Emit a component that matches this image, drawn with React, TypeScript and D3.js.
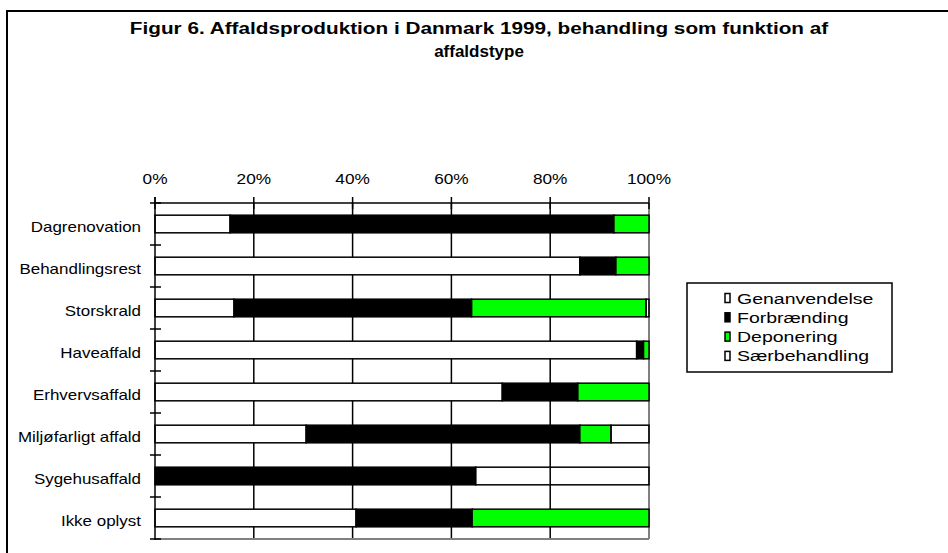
import React from 'react';
import * as d3 from 'd3';

const categories = [
  'Dagrenovation',
  'Behandlingsrest',
  'Storskrald',
  'Haveaffald',
  'Erhvervsaffald',
  'Miljøfarligt affald',
  'Sygehusaffald',
  'Ikke oplyst',
];

const seriesNames = ['Genanvendelse', 'Forbrænding', 'Deponering', 'Særbehandling'];
const seriesColors = ['#ffffff', '#000000', '#00ff00', 'none'];

const genanvendelse = [15.2, 86, 16, 97.5, 70.3, 30.6, 0, 40.7];
const forbraending = [77.7, 7.3, 48.1, 1.4, 15.3, 55.4, 64.9, 23.5];
const deponering = [7.1, 6.7, 35.3, 1.1, 14.4, 6.3, 0, 35.8];
const saerbehandling = [0, 0, 0.6, 0, 0, 7.7, 35.1, 0];

const xTicks = [0, 20, 40, 60, 80, 100];

const W = 948;
const H = 553;
const left = 155;
const right = 649;
const top = 203;
const bottom = 539;
const font = 'Liberation Sans, Arial, sans-serif';

export default function App() {
  const rows = categories.map((c, i) => ({
    cat: c,
    Genanvendelse: genanvendelse[i],
    Forbrænding: forbraending[i],
    Deponering: deponering[i],
    Særbehandling: saerbehandling[i],
  }));

  const layers = d3.stack<any>().keys(seriesNames)(rows);

  const x = d3.scaleLinear().domain([0, 100]).range([left, right]);
  const y = d3.scaleBand().domain(categories).range([top, bottom]).paddingInner(0.58).paddingOuter(0.29);
  const band = d3.scaleBand().domain(categories).range([top, bottom]);

  return (
    <svg width={W} height={H} style={{ position: 'absolute', left: 0, top: 0 }} fontFamily={font}>
      <rect x={0} y={0} width={W} height={H} fill="#fff" />
      {/* outer frame, runs off the right and bottom */}
      <rect x={7} y={11} width={W + 10} height={H + 10} fill="none" stroke="#000" strokeWidth={2} />

      <text transform="translate(479,34) scale(1.22,1)" textAnchor="middle" fontWeight="bold" fontSize={17}>
        Figur 6. Affaldsproduktion i Danmark 1999, behandling som funktion af
      </text>
      <text x={479} y={57} textAnchor="middle" fontWeight="bold" fontSize={17}>
        affaldstype
      </text>

      {/* vertical grid */}
      {xTicks.slice(1, -1).map(t => (
        <line key={'g' + t} x1={x(t)} x2={x(t)} y1={top} y2={bottom} stroke="#000" strokeWidth={1.5} />
      ))}
      <line x1={x(100)} x2={x(100)} y1={top} y2={bottom} stroke="#808080" strokeWidth={2} />
      <line x1={left} x2={right} y1={bottom} y2={bottom} stroke="#808080" strokeWidth={2} />

      {/* bars */}
      {layers.map((layer, si) => (
        <g key={seriesNames[si]}>
          {layer.map(d => (
            d[1] - d[0] > 0 ? (
              <rect
                key={d.data.cat}
                x={x(d[0])}
                y={y(d.data.cat)}
                width={x(d[1]) - x(d[0])}
                height={y.bandwidth()}
                fill={seriesColors[si]}
                stroke="#000"
                strokeWidth={1.5}
              />
            ) : null
          ))}
        </g>
      ))}

      {/* top axis */}
      <line x1={left} x2={right} y1={top} y2={top} stroke="#000" strokeWidth={1.5} />
      {xTicks.map(t => (
        <g key={'t' + t}>
          <line x1={x(t)} x2={x(t)} y1={top - 6} y2={top + 6} stroke="#000" strokeWidth={1.5} />
          <text transform={`translate(${x(t)},184) scale(1.15,1)`} textAnchor="middle" fontSize={15}>{t}%</text>
        </g>
      ))}

      {/* left axis */}
      <line x1={left} x2={left} y1={top - 6} y2={bottom + 1} stroke="#000" strokeWidth={1.5} />
      {categories.map(c => (
        <g key={'c' + c}>
          <line x1={left - 5} x2={left + 6} y1={band(c)!} y2={band(c)!} stroke="#000" strokeWidth={1.5} />
          <text
            transform={`translate(141,${(band(c) as number) + band.bandwidth() / 2 + 7.5}) scale(1.13,1)`}
            textAnchor="end"
            fontSize={15}
          >
            {c}
          </text>
        </g>
      ))}
      <line x1={left - 5} x2={left + 6} y1={bottom} y2={bottom} stroke="#000" strokeWidth={1.5} />

      {/* legend */}
      <rect x={687} y={283} width={205} height={89} fill="#fff" stroke="#000" strokeWidth={1.5} />
      {seriesNames.map((s, i) => (
        <g key={'l' + s} transform={`translate(725, ${298 + i * 19.3})`}>
          <rect x={0} y={-4.5} width={5} height={9} fill={seriesColors[i] === 'none' ? '#fff' : seriesColors[i]} stroke="#000" strokeWidth={1.5} />
          <text transform="translate(12,5.5) scale(1.3,1)" fontSize={15}>{s}</text>
        </g>
      ))}
    </svg>
  );
}
